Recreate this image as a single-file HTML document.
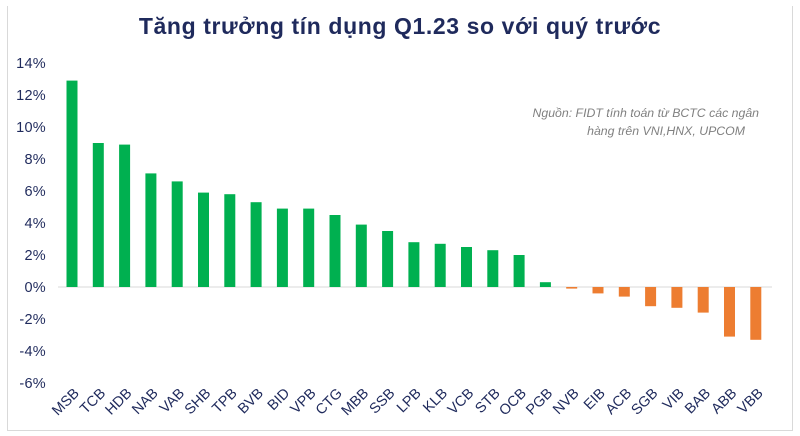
<!DOCTYPE html>
<html><head><meta charset="utf-8"><style>
body{margin:0;background:#fff;}
svg{display:block;font-family:"Liberation Sans",Verdana,sans-serif;}
</style></head><body>
<svg width="800" height="436" viewBox="0 0 800 436">
<rect x="0" y="0" width="800" height="436" fill="#fff"/>
<path d="M7.5 6 V430.5 H792.5 V6" fill="none" stroke="#d9d9d9" stroke-width="1"/>
<text x="400" y="34" text-anchor="middle" font-size="23" font-weight="bold" letter-spacing="0.6" fill="#1f2a5c">Tăng trưởng tín dụng Q1.23 so với quý trước</text>
<g font-size="14.5" fill="#1f2a5c" text-anchor="end" letter-spacing="0.3">
<text x="46" y="68">14%</text><text x="46" y="100">12%</text><text x="46" y="132">10%</text>
<text x="46" y="164">8%</text><text x="46" y="196">6%</text><text x="46" y="228">4%</text>
<text x="46" y="260">2%</text><text x="46" y="292">0%</text><text x="46" y="324">-2%</text>
<text x="46" y="356">-4%</text><text x="46" y="388">-6%</text>
</g>
<line x1="58" y1="287" x2="772" y2="287" stroke="#d9d9d9" stroke-width="1"/>
<g font-size="12.3" font-style="italic" fill="#808080" text-anchor="end">
<text x="759" y="117">Nguồn: FIDT tính toán từ BCTC các ngân</text>
<text x="745" y="135">hàng trên VNI,HNX, UPCOM</text>
</g>
<g id="bars"></g>
<g id="labels" font-size="14.5" fill="#1f2a5c"></g>
<script>
var d=[["MSB",12.9],["TCB",9.0],["HDB",8.9],["NAB",7.1],["VAB",6.6],["SHB",5.9],["TPB",5.8],["BVB",5.3],["BID",4.9],["VPB",4.9],["CTG",4.5],["MBB",3.9],["SSB",3.5],["LPB",2.8],["KLB",2.7],["VCB",2.5],["STB",2.3],["OCB",2.0],["PGB",0.3],["NVB",-0.1],["EIB",-0.4],["ACB",-0.6],["SGB",-1.2],["VIB",-1.3],["BAB",-1.6],["ABB",-3.1],["VBB",-3.3]];
var ns="http://www.w3.org/2000/svg",b=document.getElementById("bars"),l=document.getElementById("labels");
d.forEach(function(e,i){var cx=72+i*26.3,v=e[1],y0=287,h=Math.abs(v)*16;
var r=document.createElementNS(ns,"rect");r.setAttribute("x",cx-5.5);r.setAttribute("width",11);
r.setAttribute("y",v>=0?y0-h:y0);r.setAttribute("height",h);r.setAttribute("fill",v>=0?"#00b050":"#ed7d31");b.appendChild(r);
var t=document.createElementNS(ns,"text");t.setAttribute("text-anchor","end");
t.setAttribute("transform","translate("+(cx+8)+",394) rotate(-45)");t.textContent=e[0];l.appendChild(t);});
</script>
</svg>
</body></html>
